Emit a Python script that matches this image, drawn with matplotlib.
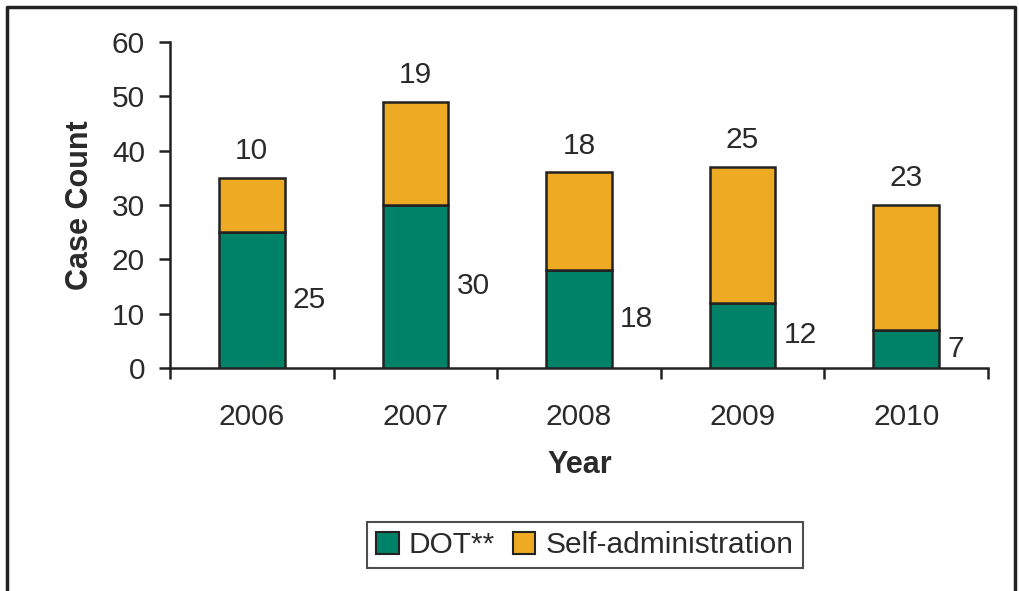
import matplotlib
matplotlib.use("Agg")
import matplotlib.pyplot as plt
from matplotlib.lines import Line2D
from matplotlib.patches import Patch
import numpy as np

years = ["2006", "2007", "2008", "2009", "2010"]
dot = [25, 30, 18, 12, 7]
self_admin = [10, 19, 18, 25, 23]

GREEN = "#008268"
ORANGE = "#EEAA22"
EDGE = "#222222"
TXT = "#2a2a2a"
FS = 21.5

plt.rcParams["font.family"] = ["Liberation Sans", "DejaVu Sans"]

fig = plt.figure(figsize=(10.19, 5.91), dpi=100)
ax = fig.add_axes([170 / 1019, 1 - 368 / 591, (988 - 170) / 1019, (368 - 42) / 591])

x = np.arange(len(years))
w = 0.4
ax.bar(x, dot, w, color=GREEN, edgecolor=EDGE, linewidth=1.8, zorder=3)
ax.bar(x, self_admin, w, bottom=dot, color=ORANGE, edgecolor=EDGE, linewidth=1.8, zorder=3)

for xi, d, s in zip(x, dot, self_admin):
    ax.annotate(str(d), (xi + w / 2, d / 2), xytext=(6, 0), textcoords="offset points",
                ha="left", va="center", fontsize=FS, color=TXT)
    ax.annotate(str(s), (xi, d + s), xytext=(0, 9), textcoords="offset points",
                ha="center", va="bottom", fontsize=FS, color=TXT)

ax.set_xlim(-0.5, len(years) - 0.5)
ax.set_ylim(0, 60)
ax.set_yticks(range(0, 61, 10))
ax.set_xticks(np.arange(-0.5, len(years), 1.0))
ax.set_xticklabels([])
ax.set_xticks(x, minor=True)
ax.set_xticklabels(years, minor=True)
ax.tick_params(axis="x", which="minor", length=0, pad=25, labelsize=FS, labelcolor=TXT)
ax.tick_params(axis="x", which="major", length=8, width=1.8, color=EDGE, direction="out")
ax.tick_params(axis="y", length=8, width=1.8, color=EDGE, direction="out", pad=10,
               labelsize=FS, labelcolor=TXT)

for side in ["top", "right"]:
    ax.spines[side].set_visible(False)
for side in ["left", "bottom"]:
    ax.spines[side].set_linewidth(1.8)
    ax.spines[side].set_color(EDGE)

fig.text(80 / 1019, 1 - 205 / 591, "Case Count", rotation=90, ha="center", va="center",
         fontsize=22, fontweight="bold", color=TXT)
fig.text(580 / 1019, 1 - 465 / 591, "Year", ha="center", va="center",
         fontsize=22, fontweight="bold", color=TXT)

handles = [Patch(facecolor=GREEN, edgecolor=EDGE, linewidth=1.5, label="DOT**"),
           Patch(facecolor=ORANGE, edgecolor=EDGE, linewidth=1.5, label="Self-administration")]
leg = fig.legend(handles=handles, loc="center", bbox_to_anchor=(585 / 1019, 1 - 545 / 591),
                 ncol=2, fontsize=FS, frameon=True, fancybox=False, handlelength=0.75,
                 handleheight=0.75, handletextpad=0.35, columnspacing=0.6, borderpad=0.3,
                 borderaxespad=0)
leg.get_frame().set_edgecolor(EDGE)
leg.get_frame().set_linewidth(1.5)
for t in leg.get_texts():
    t.set_color(TXT)

# outer frame: left, top and right edges
fig.add_artist(Line2D([7 / 1019, 7 / 1019, 1015 / 1019, 1015 / 1019],
                      [0, 1 - 7 / 591, 1 - 7 / 591, 0], transform=fig.transFigure,
                      color=EDGE, linewidth=2.5))

fig.savefig("out.png", dpi=100)
